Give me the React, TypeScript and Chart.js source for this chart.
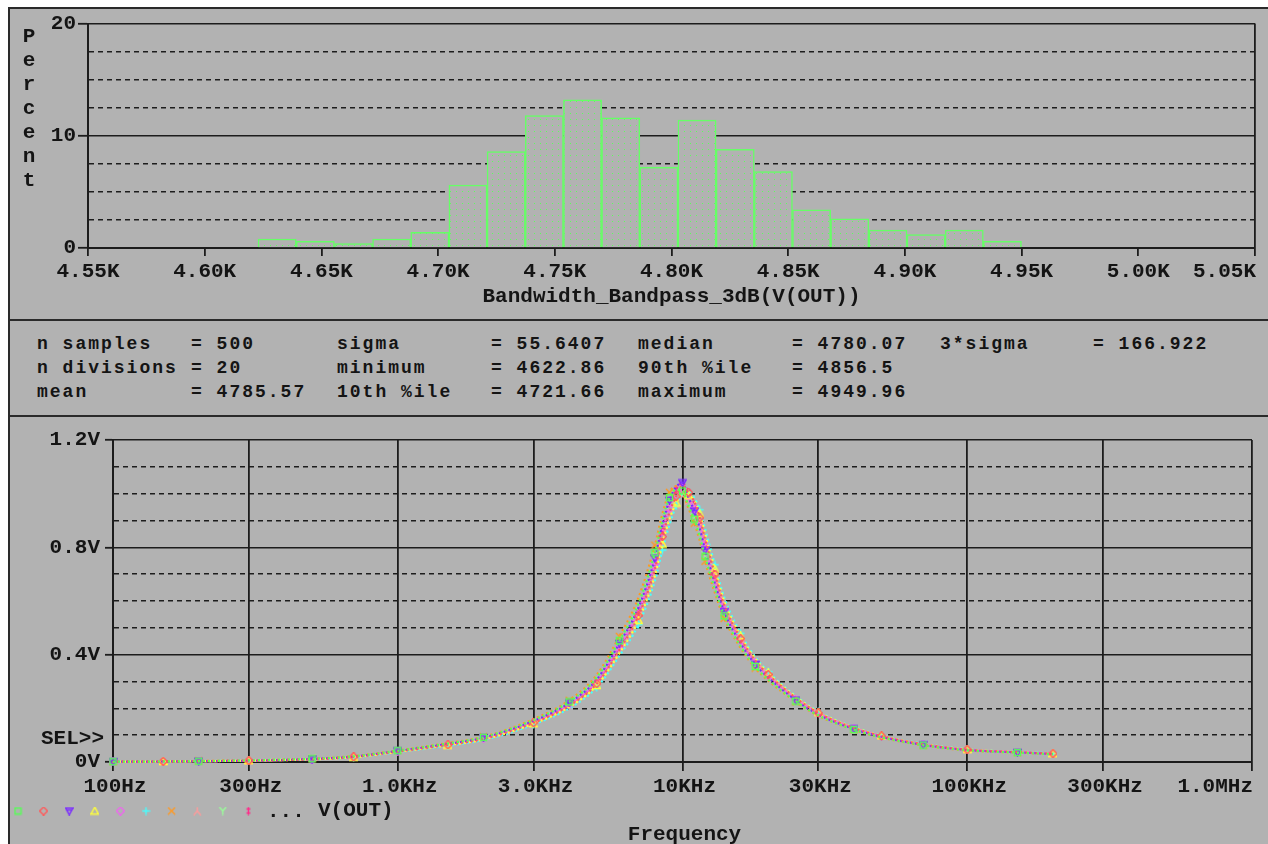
import { useEffect, useRef } from 'react';
import { Chart, registerables } from 'chart.js';

Chart.register(...registerables);

// ---------------- Histogram data ----------------
const binCenters = [
  4631.04, 4647.39, 4663.75, 4680.1, 4696.46, 4712.81, 4729.17, 4745.52, 4761.88, 4778.23,
  4794.59, 4810.94, 4827.3, 4843.65, 4860.01, 4876.36, 4892.72, 4909.07, 4925.43, 4941.78,
];
const binPercents = [
  0.8, 0.6, 0.4, 0.8, 1.4, 5.6, 8.6, 11.8, 13.2, 11.6,
  7.2, 11.4, 8.8, 6.8, 3.4, 2.6, 1.6, 1.2, 1.6, 0.6,
];
const histTicks = [4550, 4600, 4650, 4700, 4750, 4800, 4850, 4900, 4950, 5000, 5050];
const histTickLabels = ['4.55K', '4.60K', '4.65K', '4.70K', '4.75K', '4.80K', '4.85K', '4.90K', '4.95K', '5.00K', '5.05K'];
const histYTicks = [0, 10, 20];
const histYLabels = ['0', '10', '20'];
const histXTitle = 'Bandwidth_Bandpass_3dB(V(OUT))';
const histYTitle = 'Percent';

// ---------------- Statistics ----------------
const statNames = [
  ['n samples', 'sigma', 'median', '3*sigma'],
  ['n divisions', 'minimum', '90th %ile'],
  ['mean', '10th %ile', 'maximum'],
];
const statValues = [
  ['500', '55.6407', '4780.07', '166.922'],
  ['20', '4622.86', '4856.5'],
  ['4785.57', '4721.66', '4949.96'],
];

// ---------------- Frequency response data ----------------
const freqs = [
  100, 150, 200, 300, 500, 700, 1000, 1500, 2000, 3000, 4000, 5000, 6000, 7000, 8000, 8500, 9000, 9500,
  10000, 10500, 11000, 11500, 12000, 13000, 14000, 16000, 18000, 20000, 25000, 30000, 40000, 50000,
  70000, 100000, 150000, 200000,
];
const run1 = [0.001,0.002,0.003,0.006,0.012,0.021,0.042,0.069,0.092,0.156,0.224,0.315,0.452,0.590,0.780,0.900,0.985,1.015,1.010,0.955,0.905,0.840,0.765,0.645,0.545,0.432,0.356,0.308,0.227,0.174,0.121,0.092,0.063,0.044,0.035,0.029];
const run2 = [0.001,0.002,0.003,0.005,0.010,0.019,0.039,0.064,0.086,0.146,0.210,0.292,0.418,0.545,0.720,0.840,0.930,0.990,1.030,1.005,0.970,0.910,0.830,0.700,0.585,0.460,0.378,0.326,0.239,0.183,0.127,0.097,0.066,0.046,0.037,0.031];
const run3 = [0.001,0.002,0.003,0.005,0.011,0.020,0.041,0.067,0.090,0.153,0.220,0.308,0.442,0.575,0.760,0.885,0.975,1.025,1.040,0.985,0.935,0.870,0.790,0.665,0.560,0.442,0.364,0.315,0.231,0.177,0.123,0.094,0.064,0.045,0.036,0.030];
const run4 = [0.001,0.002,0.003,0.005,0.010,0.018,0.038,0.063,0.084,0.143,0.205,0.285,0.405,0.528,0.695,0.812,0.905,0.965,1.000,0.995,0.975,0.925,0.850,0.718,0.600,0.470,0.386,0.332,0.243,0.186,0.129,0.098,0.067,0.047,0.037,0.031];
const run5 = [0.001,0.002,0.003,0.005,0.011,0.020,0.040,0.066,0.088,0.150,0.216,0.302,0.432,0.562,0.738,0.855,0.945,0.992,1.020,0.982,0.945,0.885,0.805,0.676,0.568,0.449,0.369,0.319,0.234,0.180,0.125,0.095,0.065,0.045,0.036,0.030];
const run6 = [0.001,0.002,0.003,0.005,0.010,0.018,0.037,0.061,0.082,0.140,0.200,0.278,0.395,0.512,0.675,0.790,0.885,0.955,1.000,1.005,0.985,0.940,0.870,0.735,0.615,0.480,0.392,0.337,0.246,0.188,0.130,0.099,0.068,0.047,0.038,0.032];
const run7 = [0.001,0.002,0.004,0.006,0.012,0.022,0.043,0.071,0.094,0.160,0.230,0.325,0.468,0.612,0.808,0.925,1.005,1.028,1.005,0.945,0.890,0.825,0.748,0.630,0.535,0.425,0.350,0.303,0.224,0.172,0.120,0.091,0.062,0.043,0.035,0.029];
const run8 = [0.001,0.002,0.003,0.005,0.010,0.019,0.038,0.063,0.085,0.145,0.207,0.288,0.410,0.534,0.703,0.820,0.910,0.960,0.990,0.975,0.950,0.900,0.825,0.698,0.586,0.462,0.380,0.328,0.240,0.184,0.128,0.097,0.066,0.046,0.037,0.031];
const run9 = [0.001,0.002,0.003,0.006,0.012,0.021,0.041,0.068,0.091,0.154,0.222,0.311,0.446,0.582,0.768,0.888,0.972,1.005,1.005,0.958,0.912,0.848,0.772,0.650,0.550,0.436,0.359,0.311,0.229,0.176,0.122,0.093,0.064,0.044,0.035,0.030];
const run10 = [0.001,0.002,0.003,0.005,0.011,0.020,0.040,0.065,0.087,0.148,0.213,0.298,0.428,0.558,0.738,0.862,0.958,1.015,1.040,1.005,0.965,0.905,0.825,0.692,0.580,0.456,0.374,0.323,0.237,0.181,0.126,0.096,0.065,0.045,0.036,0.030];
const runs = [run1, run2, run3, run4, run5, run6, run7, run8, run9, run10];
const runColors = ['#55ff55', '#ff5a5a', '#7a2cff', '#ffff3a', '#ee66ee', '#44ffff', '#ff9922', '#ff9a9a', '#99ff99', '#ff2a8a'];
const runMarkers = ['square', 'diamond', 'tdown', 'tup', 'diamond', 'plus', 'x', 'invy', 'y', 'ddagger'];

const freqTicks = [100, 300, 1000, 3000, 10000, 30000, 100000, 300000, 1000000];
const freqTickLabels = ['100Hz', '300Hz', '1.0KHz', '3.0KHz', '10KHz', '30KHz', '100KHz', '300KHz', '1.0MHz'];
const voltTicks = [0, 0.4, 0.8, 1.2];
const voltLabels = ['0V', '0.4V', '0.8V', '1.2V'];
const freqTitle = 'Frequency';
const traceName = 'V(OUT)';
const selLabel = 'SEL>>';

// ---------------- Styles ----------------
const BG = '#b2b2b2';
const LINE = '#1c1c1c';
const TEXT = '#141414';
const GREEN = '#66ff66';
const FONT_FAMILY = '"Liberation Mono", "DejaVu Sans Mono", monospace';
const TICK_FONT = { family: FONT_FAMILY, size: 21, weight: 'bold' as const };
const TRANSPARENT = 'rgba(0,0,0,0)';

function makeMarker(kind: string, color: string): HTMLCanvasElement {
  const c = document.createElement('canvas');
  c.width = 9;
  c.height = 9;
  const g = c.getContext('2d')!;
  g.strokeStyle = color;
  g.lineWidth = 1.4;
  g.beginPath();
  switch (kind) {
    case 'square':
      g.rect(1.5, 1.5, 6, 6);
      break;
    case 'diamond':
      g.moveTo(4.5, 0.5); g.lineTo(8.5, 4.5); g.lineTo(4.5, 8.5); g.lineTo(0.5, 4.5); g.closePath();
      break;
    case 'tdown':
      g.moveTo(0.8, 1.5); g.lineTo(8.2, 1.5); g.lineTo(4.5, 8.3); g.closePath();
      g.moveTo(2.5, 3.5); g.lineTo(6.5, 3.5);
      break;
    case 'tup':
      g.moveTo(4.5, 0.7); g.lineTo(8.2, 7.5); g.lineTo(0.8, 7.5); g.closePath();
      break;
    case 'plus':
      g.moveTo(4.5, 0.5); g.lineTo(4.5, 8.5); g.moveTo(0.5, 4.5); g.lineTo(8.5, 4.5);
      break;
    case 'x':
      g.moveTo(1, 1); g.lineTo(8, 8); g.moveTo(8, 1); g.lineTo(1, 8);
      break;
    case 'invy':
      g.moveTo(4.5, 0.5); g.lineTo(4.5, 4.5); g.lineTo(1, 8.5); g.moveTo(4.5, 4.5); g.lineTo(8, 8.5);
      break;
    case 'y':
      g.moveTo(1, 0.5); g.lineTo(4.5, 4.5); g.lineTo(8, 0.5); g.moveTo(4.5, 4.5); g.lineTo(4.5, 8.5);
      break;
    default:
      g.moveTo(4.5, 0.5); g.lineTo(4.5, 8.5); g.moveTo(2.5, 2.5); g.lineTo(6.5, 2.5); g.moveTo(2.5, 6.5); g.lineTo(6.5, 6.5);
  }
  g.stroke();
  return c;
}

export default function App() {
  const histRef = useRef<HTMLCanvasElement | null>(null);
  const respRef = useRef<HTMLCanvasElement | null>(null);

  useEffect(() => {
    document.body.style.margin = '0';
    const hc = histRef.current!;
    const rc = respRef.current!;

    // dotted fill pattern
    const pc = document.createElement('canvas');
    pc.width = 6;
    pc.height = 6;
    const pg = pc.getContext('2d')!;
    pg.fillStyle = BG;
    pg.fillRect(0, 0, 6, 6);
    pg.fillStyle = '#5cff5c';
    pg.fillRect(2, 2, 1, 1);
    const pattern = hc.getContext('2d')!.createPattern(pc, 'repeat');

    const isHistMajor = (v: number) => Math.abs(v / 10 - Math.round(v / 10)) < 1e-6;

    const histPlugin = {
      id: 'histText',
      afterDraw(chart: any) {
        const { ctx, chartArea, scales } = chart;
        const x = scales.x;
        ctx.save();
        ctx.fillStyle = TEXT;
        ctx.font = `bold 21px ${FONT_FAMILY}`;
        ctx.textBaseline = 'middle';
        histTicks.forEach((v, i) => {
          const last = i === histTicks.length - 1;
          ctx.textAlign = last ? 'right' : 'center';
          ctx.fillText(histTickLabels[i], x.getPixelForValue(v) + (last ? 1 : 0), chartArea.bottom + 24);
        });
        ctx.textAlign = 'center';
        ctx.fillText(histXTitle, (chartArea.left + chartArea.right) / 2, chartArea.bottom + 49);
        ctx.textBaseline = 'alphabetic';
        histYTitle.split('').forEach((ch, i) => ctx.fillText(ch, 19, 33 + 24 * i));
        ctx.restore();
      },
    };

    const histChart = new Chart(hc, {
      type: 'bar',
      data: {
        datasets: [
          {
            data: binCenters.map((c, i) => ({ x: c, y: binPercents[i] })),
            backgroundColor: pattern as any,
            borderColor: GREEN,
            borderWidth: 1.5,
            borderSkipped: 'bottom',
            barPercentage: 1,
            categoryPercentage: 1,
          } as any,
        ],
      },
      options: {
        animation: false,
        responsive: false,
        devicePixelRatio: 1,
        events: [],
        layout: { padding: { top: 13, right: 13, left: 0, bottom: 0 } },
        plugins: { legend: { display: false }, tooltip: { enabled: false } },
        scales: {
          x: {
            type: 'linear',
            min: 4550,
            max: 5050,
            offset: false,
            afterBuildTicks: (s: any) => {
              s.ticks = histTicks.map((v) => ({ value: v }));
            },
            afterFit: (s: any) => {
              s.height = 67;
            },
            ticks: { display: false },
            grid: {
              offset: false,
              color: (c: any) => (c.tick && c.tick.value === histTicks[histTicks.length - 1] ? LINE : TRANSPARENT),
              lineWidth: 1.8,
              drawTicks: true,
              tickLength: 8,
              tickColor: LINE,
              tickWidth: 1.8,
            },
            border: { color: LINE, width: 2 },
          },
          y: {
            min: 0,
            max: 20,
            afterFit: (s: any) => {
              s.width = 78;
            },
            ticks: {
              stepSize: 2.5,
              autoSkip: false,
              padding: 2,
              color: TEXT,
              font: TICK_FONT,
              callback: (v: any) => {
                const idx = histYTicks.findIndex((t) => Math.abs(t - Number(v)) < 1e-6);
                return idx >= 0 ? histYLabels[idx] : '';
              },
            },
            grid: {
              color: LINE,
              lineWidth: 1.6,
              tickLength: 10,
              tickWidth: 1.8,
              tickColor: (c: any) => (c.tick && isHistMajor(c.tick.value) ? LINE : TRANSPARENT),
            },
            border: {
              color: LINE,
              width: 2,
              dash: (c: any) => (c.tick && !isHistMajor(c.tick.value) ? [5, 4] : []),
            },
          },
        },
      } as any,
      plugins: [histPlugin],
    });

    const markers = runMarkers.map((m, k) => makeMarker(m, runColors[k]));
    const isVoltMajor = (v: number) => Math.abs(v / 0.4 - Math.round(v / 0.4)) < 1e-6;

    const respPlugin = {
      id: 'respText',
      afterDraw(chart: any) {
        const { ctx, chartArea, scales } = chart;
        const x = scales.x;
        ctx.save();
        ctx.fillStyle = TEXT;
        ctx.font = `bold 21px ${FONT_FAMILY}`;
        ctx.textBaseline = 'middle';
        freqTicks.forEach((v, i) => {
          const last = i === freqTicks.length - 1;
          ctx.textAlign = last ? 'right' : 'center';
          ctx.fillText(freqTickLabels[i], x.getPixelForValue(v) + (last ? 1 : 2), chartArea.bottom + 25);
        });
        ctx.textAlign = 'center';
        ctx.fillText(freqTitle, (chartArea.left + chartArea.right) / 2 + 2, chartArea.bottom + 73);
        ctx.textAlign = 'right';
        ctx.fillText(selLabel, chartArea.left - 9, chartArea.bottom - 23);
        // legend
        markers.forEach((m, i) => {
          ctx.drawImage(m, 8 + 25.6 * i - 4.5, chartArea.bottom + 49 - 4.5);
        });
        ctx.textAlign = 'left';
        ctx.fillText('...', 257, chartArea.bottom + 50);
        ctx.fillText(traceName, 308, chartArea.bottom + 49);
        ctx.restore();
      },
    };

    const respChart = new Chart(rc, {
      type: 'scatter',
      data: {
        datasets: runs.map((vals, k) => ({
          data: freqs.map((f, i) => ({ x: f, y: vals[i] })),
          showLine: true,
          borderColor: runColors[k],
          borderWidth: 2.2,
          borderDash: [2, 3],
          borderDashOffset: k,
          cubicInterpolationMode: 'monotone',
          pointStyle: markers[k],
          pointRadius: (c: any) => ((c.dataIndex + k) % 2 === 0 ? 3 : 0),
          pointHoverRadius: 0,
          clip: 8,
          fill: false,
        })) as any,
      },
      options: {
        animation: false,
        responsive: false,
        devicePixelRatio: 1,
        events: [],
        layout: { padding: { top: 23, right: 16, left: 0, bottom: 0 } },
        plugins: { legend: { display: false }, tooltip: { enabled: false } },
        scales: {
          x: {
            type: 'logarithmic',
            min: 100,
            max: 1000000,
            afterBuildTicks: (s: any) => {
              s.ticks = freqTicks.map((v) => ({ value: v }));
            },
            afterFit: (s: any) => {
              s.height = 82;
            },
            ticks: { display: false },
            grid: {
              color: LINE,
              lineWidth: 1.8,
              tickLength: 9,
              tickColor: LINE,
              tickWidth: 1.8,
            },
            border: { color: LINE, width: 2 },
          },
          y: {
            min: 0,
            max: 1.2,
            afterFit: (s: any) => {
              s.width = 103;
            },
            ticks: {
              stepSize: 0.1,
              autoSkip: false,
              padding: 5,
              color: TEXT,
              font: TICK_FONT,
              callback: (v: any) => {
                const idx = voltTicks.findIndex((t) => Math.abs(t - Number(v)) < 1e-6);
                return idx >= 0 ? voltLabels[idx] : '';
              },
            },
            grid: {
              color: LINE,
              lineWidth: 1.6,
              tickLength: 8,
              tickWidth: 1.8,
              tickColor: (c: any) => (c.tick && isVoltMajor(c.tick.value) ? LINE : TRANSPARENT),
            },
            border: {
              color: LINE,
              width: 2,
              dash: (c: any) => (c.tick && !isVoltMajor(c.tick.value) ? [5, 4] : []),
            },
          },
        },
      } as any,
      plugins: [respPlugin],
    });

    return () => {
      histChart.destroy();
      respChart.destroy();
    };
  }, []);

  const nameX = [37, 337, 638, 940];
  const eqX = [191, 491, 792, 1093];
  const rowTop = [332, 356, 380];
  const statStyle: React.CSSProperties = {
    position: 'absolute',
    fontFamily: FONT_FAMILY,
    fontWeight: 'bold',
    fontSize: 18,
    letterSpacing: '2px',
    lineHeight: '24px',
    whiteSpace: 'pre',
    color: TEXT,
  };

  return (
    <div style={{ position: 'relative', width: 1268, height: 844, overflow: 'hidden', background: '#ffffff' }}>
      <div
        style={{
          position: 'absolute',
          left: 8,
          top: 7,
          width: 1260,
          height: 837,
          background: BG,
          borderLeft: '2px solid #2a2a2a',
          borderTop: '2px solid #2a2a2a',
          boxSizing: 'border-box',
        }}
      />
      <div style={{ position: 'absolute', left: 8, top: 319, width: 1260, height: 2, background: '#2a2a2a' }} />
      <div style={{ position: 'absolute', left: 8, top: 415, width: 1260, height: 2, background: '#2a2a2a' }} />
      <canvas ref={histRef} width={1258} height={306} style={{ position: 'absolute', left: 10, top: 9 }} />
      {statNames.map((row, r) =>
        row.map((name, c) => (
          <div key={`s${r}-${c}`}>
            <span style={{ ...statStyle, left: nameX[c], top: rowTop[r] }}>{name}</span>
            <span style={{ ...statStyle, left: eqX[c], top: rowTop[r] }}>{'= ' + statValues[r][c]}</span>
          </div>
        ))
      )}
      <canvas ref={respRef} width={1258} height={427} style={{ position: 'absolute', left: 10, top: 417 }} />
    </div>
  );
}
